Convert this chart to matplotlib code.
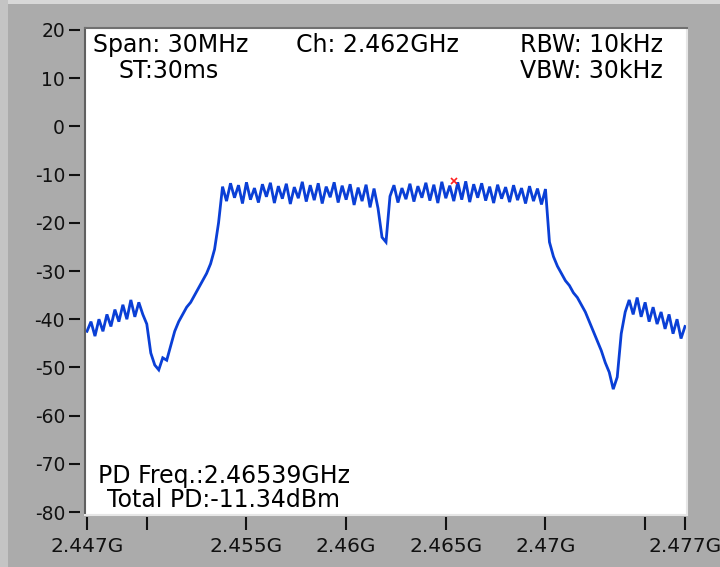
import numpy as np
import matplotlib
matplotlib.use("Agg")
import matplotlib.pyplot as plt
from matplotlib.patches import Rectangle

plt.rcParams["font.family"] = ["DejaVu Sans"]
plt.rcParams["axes.unicode_minus"] = False

# sweep: 2.447 GHz .. 2.477 GHz, one point every 0.2 MHz
f_start = 2.447
f_stop = 2.477
freq = np.linspace(f_start, f_stop, 151)

# trace level in dBm
left_skirt = [-42.5, -40.5, -43.5, -40, -42.5, -39, -41.5, -38, -40.5, -37,
              -40, -36, -39.5, -36.5, -39, -41, -47, -49.5, -50.5, -48,
              -48.5, -45.5, -42.5, -40.5, -39, -37.5, -36.5, -35, -33.5, -32,
              -30.5, -28.5, -25.5, -20]
lower_band = [-12.5, -15.5, -11.8, -14.8, -12.2, -16, -11.6, -15.2, -12.8, -15.8,
              -12, -14.6, -11.7, -15.9, -12.4, -15, -11.9, -16.1, -12.6, -14.9,
              -11.5, -15.6, -12.2, -15.3, -11.8, -16, -12.5, -14.7, -11.6, -15.8,
              -12.3, -15.2, -12, -16.3, -12.7, -15.5, -12.1, -16.8, -12.9, -17]
center_dip = [-23, -24]
upper_band = [-14.5, -12.2, -15.8, -12.8, -15.1, -11.9, -15.6, -12.4, -14.8, -11.7,
              -15.4, -12.1, -15.9, -11.5, -14.9, -12.3, -15.5, -11.6, -15.2, -11.4,
              -15.7, -12, -14.8, -11.8, -15.4, -12.5, -15.9, -12.1, -15, -12.6,
              -15.7, -12.2, -15.3, -12.8, -16, -12.4, -15.5, -12.9, -16.2, -13]
right_skirt = [-24, -27, -29, -30.5, -32, -33, -34.5, -35.5, -37, -38.5,
               -40.5, -42.5, -44.5, -46.5, -49, -51, -54.5, -52, -43, -38.5,
               -36, -39, -35.5, -39.5, -36.5, -40.5, -37.5, -41, -38.5, -42,
               -39, -43, -40, -44, -41.5]
level = left_skirt + lower_band + center_dip + upper_band + right_skirt

marker_freq = 2.46539
marker_level = -11.34

info_top = ["Span: 30MHz", "Ch: 2.462GHz", "RBW: 10kHz"]
info_second = ["ST:30ms", "VBW: 30kHz"]
pd_lines = ["PD Freq.:2.46539GHz", "Total PD:-11.34dBm"]

x_ticks = [2.447, 2.450, 2.455, 2.460, 2.465, 2.470, 2.475, 2.477]
x_labels = ["2.447G", "", "2.455G", "2.46G", "2.465G", "2.47G", "", "2.477G"]
y_ticks = [20, 10, 0, -10, -20, -30, -40, -50, -60, -70, -80]

bg = "#ababab"
fig = plt.figure(figsize=(7.2, 5.67), dpi=100, facecolor=bg)
# lighter strip along the top and left of the panel
fig.patches.append(Rectangle((0, 0.993), 1, 0.007, transform=fig.transFigure,
                             facecolor="#d8d8d8", edgecolor="none"))
fig.patches.append(Rectangle((0, 0), 0.011, 1, transform=fig.transFigure,
                             facecolor="#c4c4c4", edgecolor="none"))

ax = fig.add_axes([85 / 720, 52 / 567, 602 / 720, 487 / 567])
ax.set_facecolor("white")

ax.plot(freq, level, color="#0a3fd6", lw=2.0, solid_joinstyle="miter")
ax.plot(marker_freq, marker_level, "x", color="#ff2020", ms=5, mew=1.2)

ax.set_xlim(f_start - 0.0001, f_stop + 0.0001)
ax.set_ylim(-80.6, 20.4)
ax.set_xticks(x_ticks)
ax.set_xticklabels(x_labels)
ax.set_yticks(y_ticks)

# ticks sit a little outside the white frame
ax.spines["left"].set_position(("outward", 3.6))
ax.spines["bottom"].set_position(("outward", 1.4))
ax.spines["left"].set_visible(False)
ax.spines["bottom"].set_visible(False)
ax.spines["top"].set_color("#707070")
ax.spines["top"].set_linewidth(1.5)
ax.spines["right"].set_color("#e6e6e6")
ax.spines["right"].set_linewidth(1.5)
ax.plot([0, 0], [0, 1], transform=ax.transAxes, color="#606060", lw=1.5, clip_on=False)
ax.plot([0, 1], [0, 0], transform=ax.transAxes, color="#e6e6e6", lw=1.5, clip_on=False)

ax.tick_params(axis="y", direction="out", length=7.9, width=1.5, pad=2.9,
               colors="#111111", labelsize=13.5)
ax.tick_params(axis="x", direction="out", length=9.4, width=1.5, pad=5,
               colors="#111111", labelsize=14.5)

fs = 17
ax.text(0.013, 0.965, info_top[0], transform=ax.transAxes, fontsize=fs, va="center")
ax.text(0.350, 0.965, info_top[1], transform=ax.transAxes, fontsize=fs, va="center")
ax.text(0.7226, 0.965, info_top[2], transform=ax.transAxes, fontsize=fs, va="center")
ax.text(0.055, 0.912, info_second[0], transform=ax.transAxes, fontsize=fs, va="center")
ax.text(0.7226, 0.912, info_second[1], transform=ax.transAxes, fontsize=fs, va="center")
ax.text(0.0216, 0.080, pd_lines[0], transform=ax.transAxes, fontsize=fs, va="center")
ax.text(0.0365, 0.031, pd_lines[1], transform=ax.transAxes, fontsize=fs, va="center")

fig.savefig("out.png", dpi=100, facecolor=bg)
